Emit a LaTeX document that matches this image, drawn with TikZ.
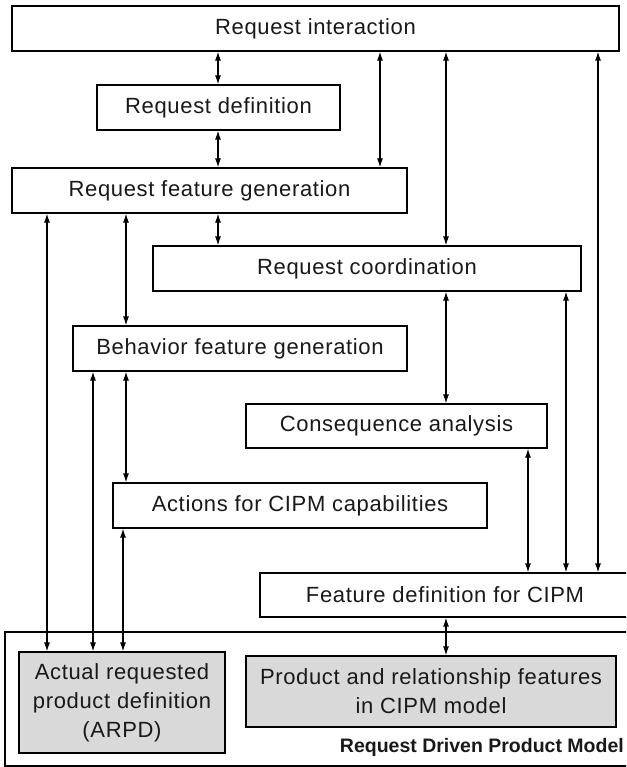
\documentclass[tikz,border=0pt]{standalone}
\usepackage{fontspec}
\setmainfont{Liberation Sans}
\newfontfamily\boxfont{Liberation Sans}[LetterSpace=3]
\usetikzlibrary{arrows.meta}

\begin{document}
\begin{tikzpicture}[
  x=1pt, y=-1pt,
  every node/.style={font=\boxfont\fontsize{22}{29}\selectfont, text=black!90},
  box/.style={draw, line width=1.2pt, inner sep=0pt, align=center, fill=white},
  graybox/.style={box, fill=black!15},
  frame/.style={draw, line width=1.2pt, inner sep=0pt},
  dbl/.style={{Latex[length=9pt,width=6pt]}-{Latex[length=9pt,width=6pt]}, line width=1.2pt},
  caption/.style={font=\rmfamily\fontsize{19.5}{22}\selectfont\bfseries, inner sep=0pt}
]
\useasboundingbox (0,0) rectangle (626,767);
\clip (0,0) rectangle (626,767);

% process boxes
\node[box, minimum width=607pt, minimum height=45pt] (ri)  at (315.5,28.5) {Request interaction};
\node[box, minimum width=243pt, minimum height=45pt] (rd)  at (218.5,107.5) {Request definition};
\node[box, minimum width=395pt, minimum height=45pt] (rfg) at (209.5,190.5) {Request feature generation};
\node[box, minimum width=428pt, minimum height=45pt] (rc)  at (367,268.5) {Request coordination};
\node[box, minimum width=334pt, minimum height=45pt] (bfg) at (240,348.5) {Behavior feature generation};
\node[box, minimum width=301pt, minimum height=44pt] (ca)  at (396.5,426) {Consequence analysis};
\node[box, minimum width=374pt, minimum height=45pt] (act) at (300,505.5) {Actions for CIPM capabilities};
\node[box, minimum width=370pt, minimum height=44pt] (fd)  at (445,595) {Feature definition for CIPM};

% product model container and its contents
\node[frame, minimum width=627pt, minimum height=134pt] (model) at (318.5,699) {};
\node[graybox, minimum width=206pt, minimum height=101pt] (arpd) at (122,702.5)
  {Actual requested\\product definition\\(ARPD)};
\node[graybox, minimum width=370pt, minimum height=71pt] (prod) at (431,691.5)
  {Product and relationship features\\in CIPM model};
\node[caption, anchor=east] (mlabel) at (624,747) {Request Driven Product Model};

% connectors
\draw[dbl] (ri.south -| 218,0) -- (rd.north -| 218,0);
\draw[dbl] (rd.south -| 218,0) -- (rfg.north -| 218,0);
\draw[dbl] (ri.south -| 380,0) -- (rfg.north -| 380,0);
\draw[dbl] (ri.south -| 446,0) -- (rc.north -| 446,0);
\draw[dbl] (ri.south -| 598,0) -- (fd.north -| 598,0);
\draw[dbl] (rfg.south -| 218,0) -- (rc.north -| 218,0);
\draw[dbl] (rfg.south -| 126,0) -- (bfg.north -| 126,0);
\draw[dbl] (rfg.south -| 47,0) -- (arpd.north -| 47,0);
\draw[dbl] (rc.south -| 446,0) -- (ca.north -| 446,0);
\draw[dbl] (rc.south -| 566,0) -- (fd.north -| 566,0);
\draw[dbl] (bfg.south -| 93,0) -- (arpd.north -| 93,0);
\draw[dbl] (bfg.south -| 126,0) -- (act.north -| 126,0);
\draw[dbl] (ca.south -| 528,0) -- (fd.north -| 528,0);
\draw[dbl] (act.south -| 123,0) -- (arpd.north -| 123,0);
\draw[dbl] (fd.south -| 446,0) -- (prod.north -| 446,0);
\end{tikzpicture}
\end{document}
